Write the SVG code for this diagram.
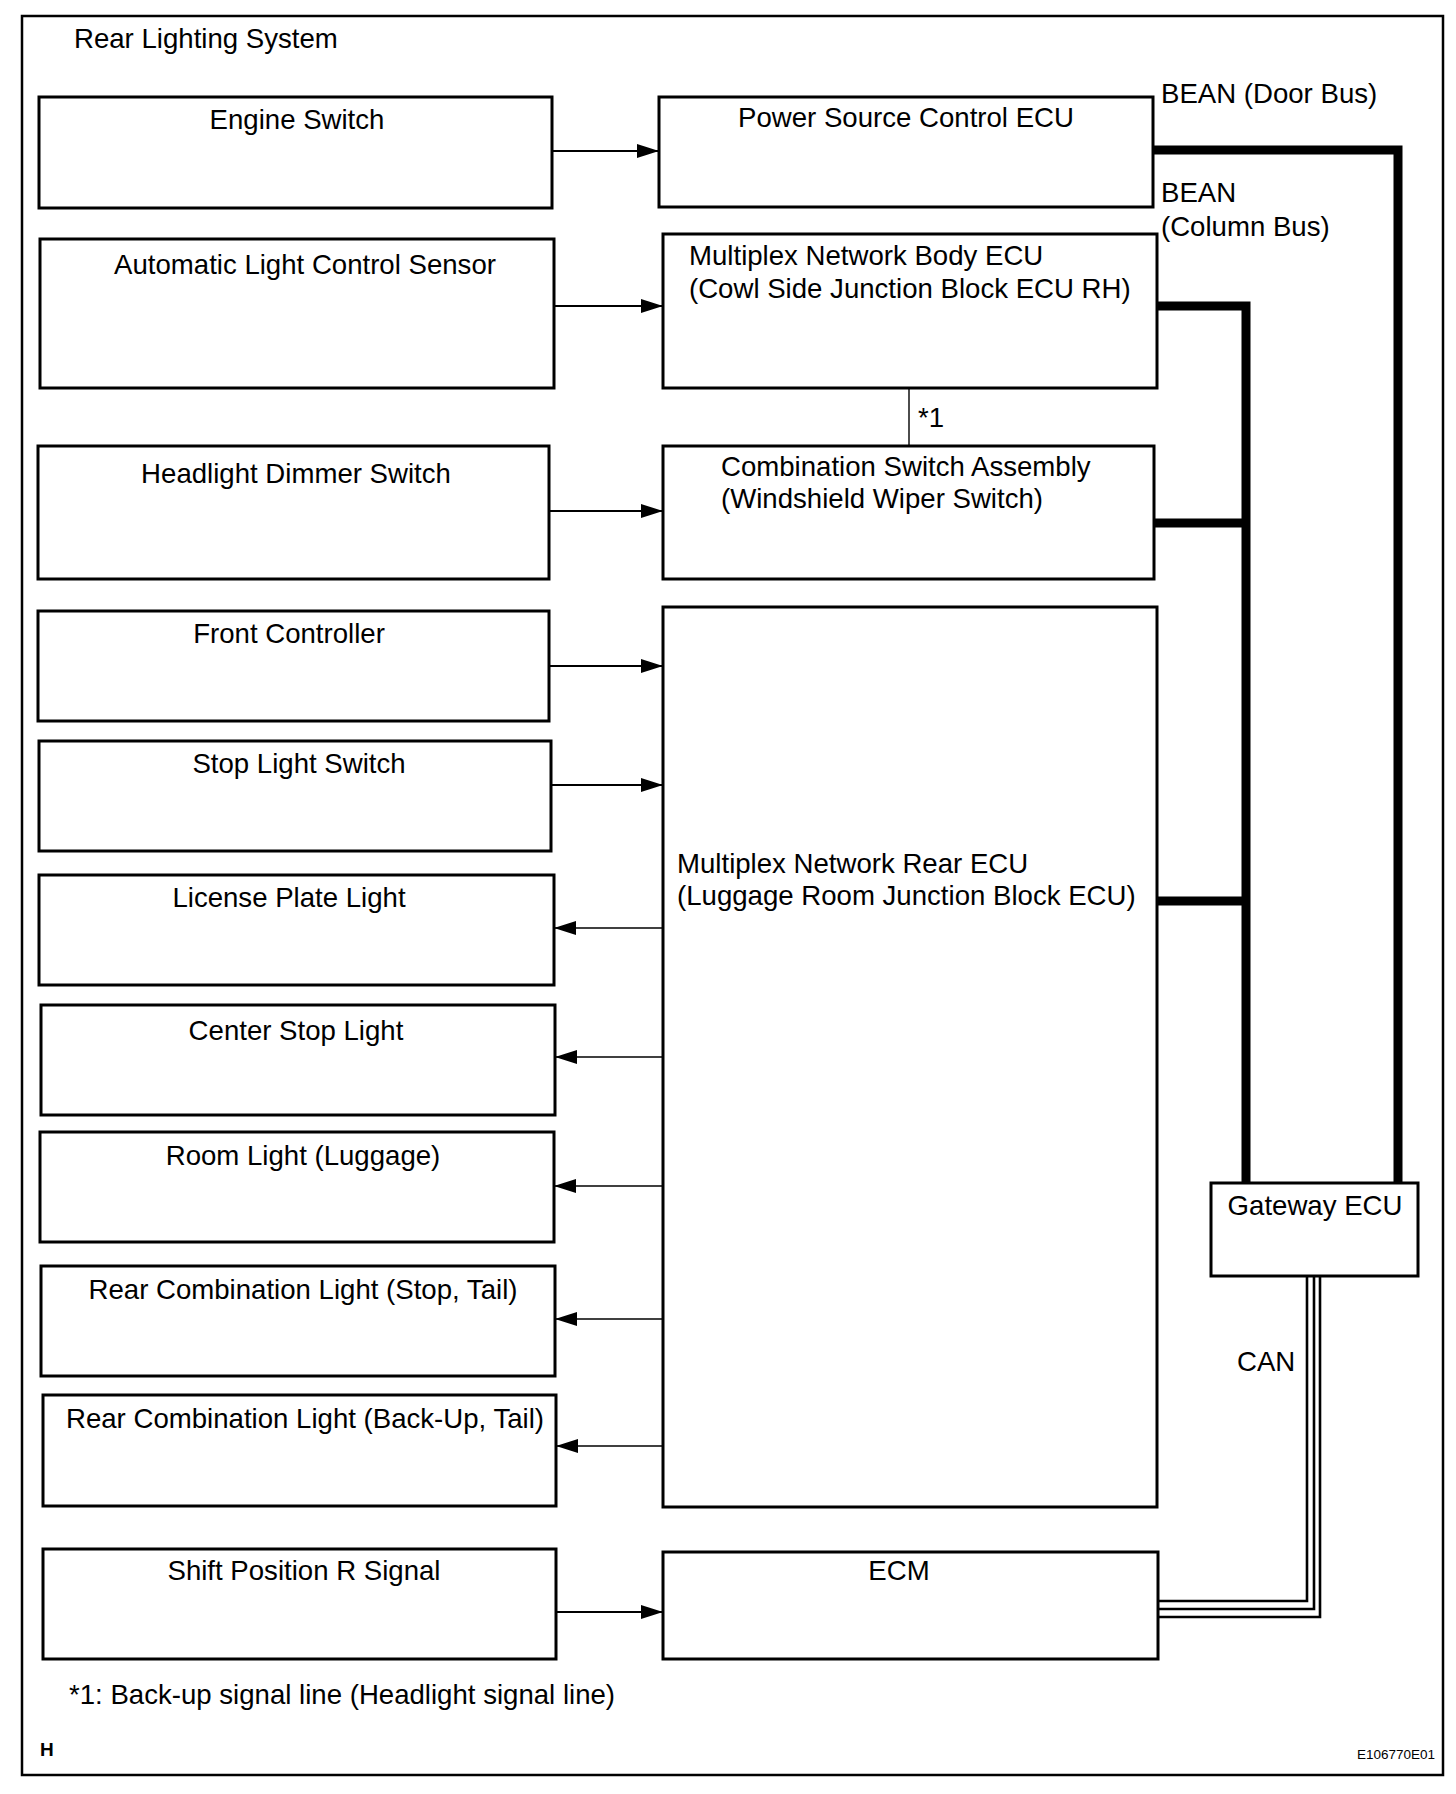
<svg xmlns="http://www.w3.org/2000/svg" width="1456" height="1794" viewBox="0 0 1456 1794">
<style>
text{font-family:"Liberation Sans",Arial,sans-serif;font-size:27.6px;fill:#000}
.c{text-anchor:middle}
.box{fill:#fff;stroke:#000;stroke-width:3}
.ar{stroke:#000;stroke-width:2;fill:none}
.al{stroke:#000;stroke-width:1.4;fill:none}
.bus{stroke:#000;stroke-width:9;fill:none}
.can{stroke:#000;stroke-width:2.6;fill:none}
</style>
<defs>
<marker id="ah" viewBox="0 0 22 14" refX="22" refY="7" markerWidth="22" markerHeight="14" markerUnits="userSpaceOnUse" orient="auto">
<path d="M0,0 L22,7 L0,14 Z" fill="#000"/>
</marker>
</defs>
<rect x="0" y="0" width="1456" height="1794" fill="#fff"/>
<rect id="frame" x="22" y="16" width="1421" height="1759" fill="none" stroke="#000" stroke-width="2.5"/>
<text x="74" y="48">Rear Lighting System</text>

<g id="connectors">
<line class="ar" x1="552" y1="151" x2="659" y2="151" marker-end="url(#ah)"/>
<line class="ar" x1="554" y1="306" x2="663" y2="306" marker-end="url(#ah)"/>
<line class="ar" x1="549" y1="511" x2="663" y2="511" marker-end="url(#ah)"/>
<line class="ar" x1="549" y1="666" x2="663" y2="666" marker-end="url(#ah)"/>
<line class="ar" x1="551" y1="785" x2="663" y2="785" marker-end="url(#ah)"/>
<line class="al" x1="663" y1="928" x2="554" y2="928" marker-end="url(#ah)"/>
<line class="al" x1="663" y1="1057" x2="555" y2="1057" marker-end="url(#ah)"/>
<line class="al" x1="663" y1="1186" x2="554" y2="1186" marker-end="url(#ah)"/>
<line class="al" x1="663" y1="1319" x2="555" y2="1319" marker-end="url(#ah)"/>
<line class="al" x1="663" y1="1446" x2="556" y2="1446" marker-end="url(#ah)"/>
<line class="ar" x1="556" y1="1612" x2="663" y2="1612" marker-end="url(#ah)"/>
<line class="al" x1="909" y1="388" x2="909" y2="446"/>
<polyline class="bus" points="1153,150 1398,150 1398,1183"/>
<polyline class="bus" points="1157,306 1246,306 1246,1183"/>
<line class="bus" x1="1154" y1="523" x2="1246" y2="523"/>
<line class="bus" x1="1157" y1="901" x2="1246" y2="901"/>
<polyline class="can" points="1307,1276 1307,1601 1158,1601"/>
<polyline class="can" points="1314,1276 1314,1609 1158,1609"/>
<polyline class="can" points="1320,1276 1320,1617 1158,1617"/>
<text x="918" y="427">*1</text>
<text x="1161" y="103">BEAN (Door Bus)</text>
<text x="1161" y="202">BEAN</text>
<text x="1161" y="236">(Column Bus)</text>
<text x="1237" y="1371">CAN</text>
</g>

<g id="engine-switch"><rect class="box" x="39" y="97" width="513" height="111"/><text class="c" x="297" y="129">Engine Switch</text></g>
<g id="auto-light-sensor"><rect class="box" x="40" y="239" width="514" height="149"/><text class="c" x="305" y="274">Automatic Light Control Sensor</text></g>
<g id="headlight-dimmer"><rect class="box" x="38" y="446" width="511" height="133"/><text class="c" x="296" y="483">Headlight Dimmer Switch</text></g>
<g id="front-controller"><rect class="box" x="38" y="611" width="511" height="110"/><text class="c" x="289" y="643">Front Controller</text></g>
<g id="stop-light-switch"><rect class="box" x="39" y="741" width="512" height="110"/><text class="c" x="299" y="773">Stop Light Switch</text></g>
<g id="license-plate"><rect class="box" x="39" y="875" width="515" height="110"/><text class="c" x="289" y="907">License Plate Light</text></g>
<g id="center-stop"><rect class="box" x="41" y="1005" width="514" height="110"/><text class="c" x="296" y="1040">Center Stop Light</text></g>
<g id="room-light"><rect class="box" x="40" y="1132" width="514" height="110"/><text class="c" x="303" y="1165">Room Light (Luggage)</text></g>
<g id="rcl-stop"><rect class="box" x="41" y="1266" width="514" height="110"/><text class="c" x="303" y="1299">Rear Combination Light (Stop, Tail)</text></g>
<g id="rcl-backup"><rect class="box" x="43" y="1395" width="513" height="111"/><text class="c" x="305" y="1428">Rear Combination Light (Back-Up, Tail)</text></g>
<g id="shift-position"><rect class="box" x="43" y="1549" width="513" height="110"/><text class="c" x="304" y="1580">Shift Position R Signal</text></g>

<g id="power-source-ecu"><rect class="box" x="659" y="97" width="494" height="110"/><text class="c" x="906" y="127">Power Source Control ECU</text></g>
<g id="body-ecu"><rect class="box" x="663" y="234" width="494" height="154"/><text x="689" y="265">Multiplex Network Body ECU</text><text x="689" y="298">(Cowl Side Junction Block ECU RH)</text></g>
<g id="combination-switch"><rect class="box" x="663" y="446" width="491" height="133"/><text x="721" y="476">Combination Switch Assembly</text><text x="721" y="508">(Windshield Wiper Switch)</text></g>
<g id="rear-ecu"><rect class="box" x="663" y="607" width="494" height="900"/><text x="677" y="873">Multiplex Network Rear ECU</text><text x="677" y="905">(Luggage Room Junction Block ECU)</text></g>
<g id="ecm"><rect class="box" x="663" y="1552" width="495" height="107"/><text class="c" x="899" y="1580">ECM</text></g>
<g id="gateway-ecu"><rect class="box" x="1211" y="1183" width="207" height="93"/><text class="c" x="1315" y="1215">Gateway ECU</text></g>

<text x="69" y="1704">*1: Back-up signal line (Headlight signal line)</text>
<text x="40" y="1756" style="font-size:19px;font-weight:bold">H</text>
<text x="1435" y="1759" style="font-size:13.5px;text-anchor:end">E106770E01</text>
</svg>
